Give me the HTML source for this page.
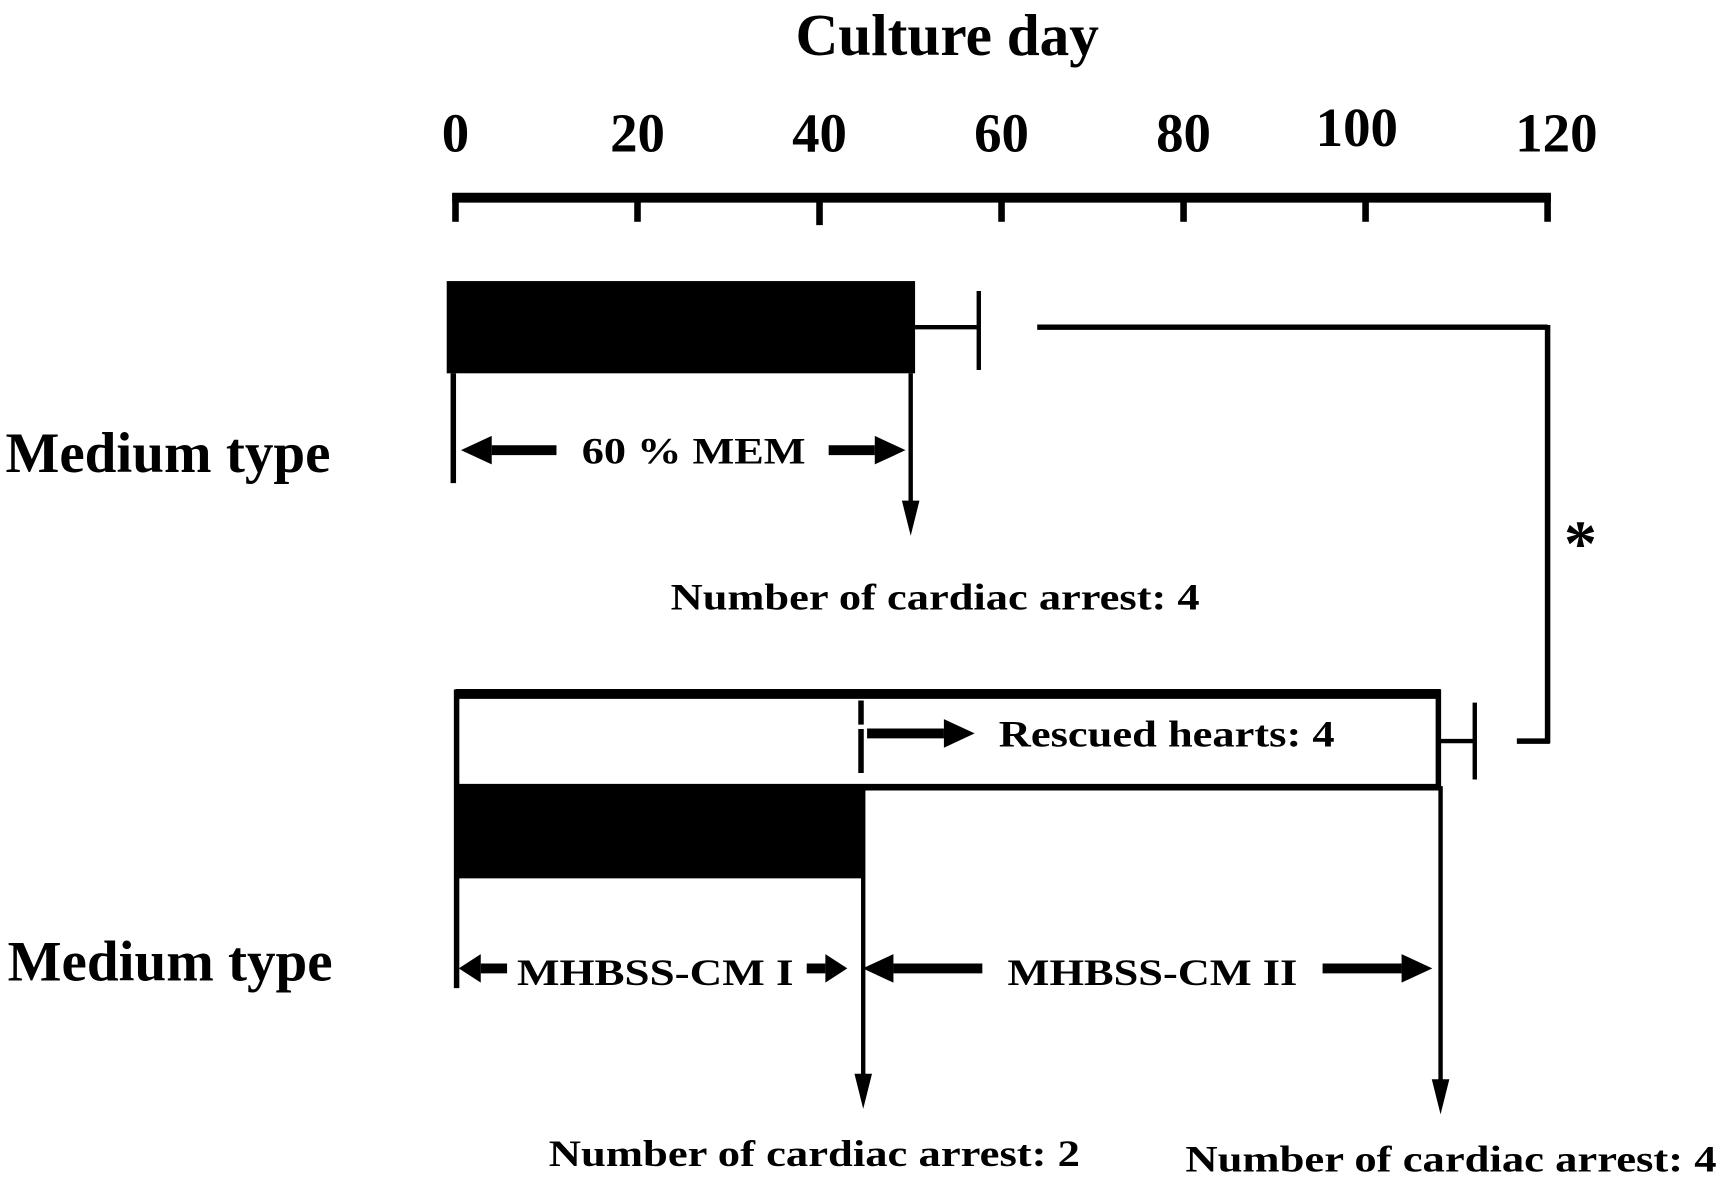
<!DOCTYPE html>
<html><head><meta charset="utf-8"><style>
html,body{margin:0;padding:0;background:#fff}
svg{display:block}
text{font-family:"Liberation Serif",serif;font-weight:bold;fill:#000}
</style></head><body>
<svg id="chart" width="1721" height="1177" viewBox="0 0 1568 1072" preserveAspectRatio="none" xmlns="http://www.w3.org/2000/svg">
<text x="863" y="50" font-size="54" text-anchor="middle">Culture day</text>
<g id="axis"></g>
<g id="marks"></g>
<text x="5" y="430" font-size="52">Medium type</text>
<text x="7" y="893" font-size="52">Medium type</text>
<text x="1440" y="515" font-size="60" text-anchor="middle">*</text>
</svg>
<script>
const tickValues = [0, 20, 40, 60, 80, 100, 120];
const tickLabels = ["0", "20", "40", "60", "80", "100", "120"];
const memDays = [50.5];
const memErr = [57.5];
const cm1Days = [44.8];
const totalDays = [108];
const totalErr = [112];
const arrestLabels = ["Number of cardiac arrest: 4", "Number of cardiac arrest: 2", "Number of cardiac arrest: 4"];

const NS = "http://www.w3.org/2000/svg";
const x = d => 415 + d * (1410 - 415) / 120;
function mk(parent, tag, attrs) {
  const e = document.createElementNS(NS, tag);
  for (const k in attrs) e.setAttribute(k, attrs[k]);
  parent.appendChild(e);
  return e;
}
const axis = document.getElementById('axis');
const g = document.getElementById('marks');

let l = mk(axis, 'line', {x1: x(0) - 3, x2: x(120) + 3, y1: 180, y2: 180, stroke: '#000', 'stroke-width': 9});


tickValues.forEach((v, i) => {
  const t = mk(axis, 'line', {x1: x(v), x2: x(v), y1: 176, y2: (i === 2 ? 205 : 202), stroke: '#000', 'stroke-width': 6});
  
  
  const tx = mk(axis, 'text', {x: x(v) + (i === 5 ? -8 : i === 6 ? 8 : 0), y: (i === 5 ? 133 : 138), 'font-size': 50, 'text-anchor': 'middle'});
  tx.textContent = tickLabels[i];
  
  
});

function line(x1, y1, x2, y2, w, name) {
  const e = mk(g, 'line', {x1, y1, x2, y2, stroke: '#000', 'stroke-width': w});
  
  
  return e;
}
function arrow(x1, x2, y, w, hw, hl, name) {
  const dir = Math.sign(x2 - x1);
  line(x1, y, x2 - dir * hl, y, w, name + '-shaft');
  const p = mk(g, 'polygon', {points: `${x2},${y} ${x2 - dir * hl},${y - hw} ${x2 - dir * hl},${y + hw}`, fill: '#000'});
  
  
}
function varrow(xx, y1, y2, name) {
  line(xx, y1, xx, y2 - 30, 4, name + '-shaft');
  const p = mk(g, 'polygon', {points: `${xx},${y2} ${xx - 8},${y2 - 32} ${xx + 8},${y2 - 32}`, fill: '#000'});
  
  
}
function txt(s, xx, y, size, anchor, len, name) {
  const t = mk(g, 'text', {x: xx, y, 'font-size': size, 'text-anchor': anchor});
  if (len) { t.setAttribute('textLength', len); t.setAttribute('lengthAdjust', 'spacingAndGlyphs'); }
  t.textContent = s;
  
  
}

// Top group: 60% MEM
let r = mk(g, 'rect', {x: x(0) - 8, y: 256, width: x(memDays[0]) - x(0) + 8, height: 84, fill: '#000'});


line(x(memDays[0]), 298, x(memErr[0]), 298, 4, 'error-bar-mem');
line(x(memErr[0]), 265, x(memErr[0]), 337, 4, 'error-cap-mem');
line(945, 298, 1410, 298, 5, 'significance-bracket-top');
line(1410, 296, 1410, 677, 5, 'significance-bracket-side');
line(1382, 675, 1412, 675, 5, 'significance-bracket-bottom');
line(413, 340, 413, 440, 5, 'mem-start-line');
varrow(x(memDays[0]) - 4, 340, 488, 'mem-end-arrow');
arrow(507, 420, 410, 9, 13, 28, 'mem-left-arrow');
arrow(755, 825, 410, 9, 13, 28, 'mem-right-arrow');
txt('60 % MEM', 632, 422, 34, 'middle', 204, 'mem-label');
txt(arrestLabels[0], 852, 555, 34, 'middle', 482, 'arrest-count-mem');

// Bottom group
line(x(0), 632, x(totalDays[0]) + 2, 632, 9, 'bar-total-top');
line(x(0) + 1, 628, x(0) + 1, 900, 5, 'bar-total-left');
line(x(0), 717, x(totalDays[0]), 717, 6, 'bar-total-bottom');
line(x(totalDays[0]), 628, x(totalDays[0]), 720, 5, 'bar-total-right');
r = mk(g, 'rect', {x: x(0), y: 716, width: x(cm1Days[0]) - x(0), height: 84, fill: '#000'});


let d = line(x(cm1Days[0]) - 2, 638, x(cm1Days[0]) - 2, 706, 5, 'switch-dashed-line');
d.setAttribute('stroke-dasharray', '22 4 40');
arrow(790, 888, 668, 9, 13, 28, 'rescued-arrow');
txt('Rescued hearts: 4', 910, 680, 34, 'start', 306, 'rescued-label');
line(x(totalDays[0]), 675, x(totalErr[0]), 675, 4, 'error-bar-total');
line(x(totalErr[0]), 640, x(totalErr[0]), 710, 4, 'error-cap-total');
varrow(x(cm1Days[0]), 716, 1010, 'cm1-end-arrow');
varrow(x(totalDays[0]) + 2, 716, 1015, 'cm2-end-arrow');
arrow(462, 418, 882, 9, 13, 20, 'cm1-left-arrow');
arrow(735, 772, 882, 9, 13, 20, 'cm1-right-arrow');
arrow(895, 786, 882, 9, 13, 28, 'cm2-left-arrow');
arrow(1205, 1305, 882, 9, 13, 28, 'cm2-right-arrow');
txt('MHBSS-CM I', 597, 897, 34, 'middle', 252, 'cm1-label');
txt('MHBSS-CM II', 1050, 897, 34, 'middle', 264, 'cm2-label');
txt(arrestLabels[1], 742, 1062, 34, 'middle', 484, 'arrest-count-cm1');
txt(arrestLabels[2], 1080, 1067, 34, 'start', 484, 'arrest-count-cm2');
</script>
</body></html>
